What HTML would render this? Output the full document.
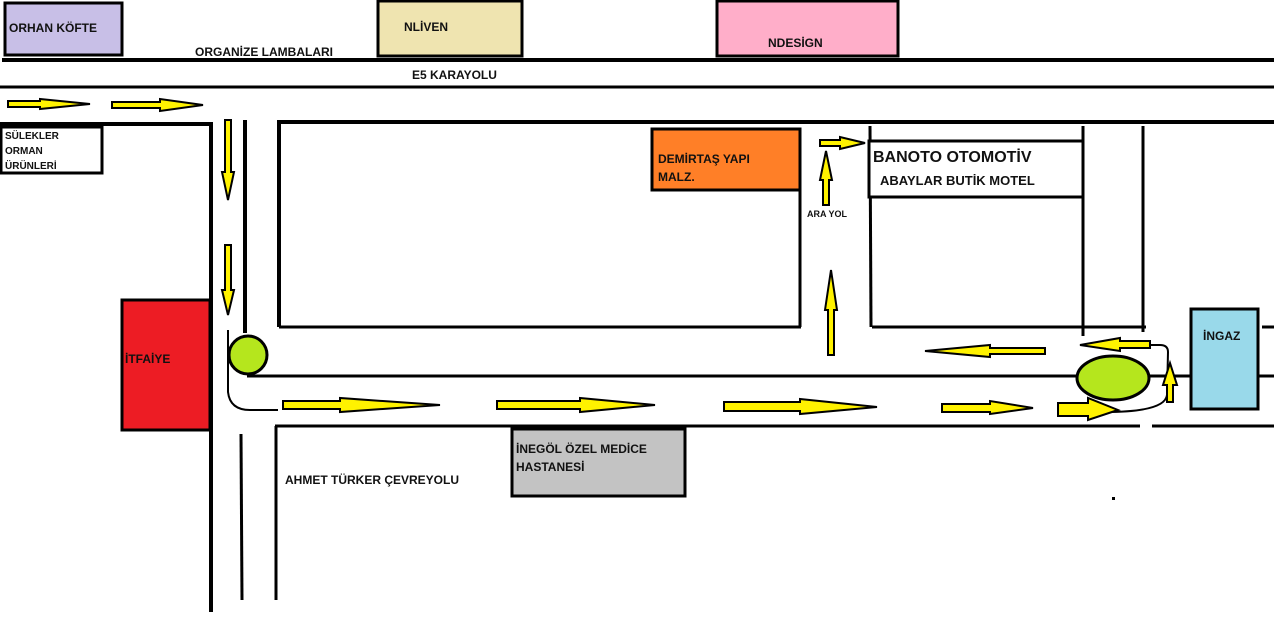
<!DOCTYPE html>
<html><head><meta charset="utf-8"><style>
html,body{margin:0;padding:0;background:#fff}
svg{display:block}
text{font-family:"Liberation Sans",sans-serif;font-weight:bold;fill:#111}
</style></head><body>
<svg width="1274" height="630" viewBox="0 0 1274 630" xmlns="http://www.w3.org/2000/svg">
<rect width="1274" height="630" fill="#fff"/>
<!-- top buildings -->
<rect x="5" y="3" width="117" height="52" fill="#c8bfe7" stroke="#000" stroke-width="3"/>
<text x="9" y="32" font-size="12">ORHAN KÖFTE</text>
<rect x="378" y="1" width="144" height="55" fill="#efe4b0" stroke="#000" stroke-width="3"/>
<text x="404" y="31" font-size="12">NLİVEN</text>
<rect x="717" y="1" width="181" height="55" fill="#ffaec9" stroke="#000" stroke-width="3"/>
<text x="768" y="47" font-size="12">NDESİGN</text>
<text x="195" y="56" font-size="12" font-weight="normal">ORGANİZE LAMBALARI</text>
<!-- E5 lines -->
<line x1="2" y1="60" x2="1274" y2="60" stroke="#000" stroke-width="4"/>
<line x1="0" y1="87" x2="1274" y2="87" stroke="#000" stroke-width="3"/>
<text x="412" y="79" font-size="12" font-weight="normal">E5 KARAYOLU</text>
<!-- left block -->
<polyline points="0,124 211,124 211,612" fill="none" stroke="#000" stroke-width="4"/>
<rect x="1" y="127" width="101" height="46" fill="#fff" stroke="#000" stroke-width="3"/>
<text x="5" y="139" font-size="10">SÜLEKLER</text>
<text x="5" y="154" font-size="10">ORMAN</text>
<text x="5" y="169" font-size="10">ÜRÜNLERİ</text>
<line x1="245" y1="120" x2="245" y2="333" stroke="#000" stroke-width="4"/>
<!-- middle block -->
<polyline points="279,327 279,122 1274,122" fill="none" stroke="#000" stroke-width="4"/>
<line x1="279" y1="327" x2="801" y2="327" stroke="#000" stroke-width="3"/>
<line x1="800" y1="130" x2="800" y2="327" stroke="#000" stroke-width="3"/>
<!-- right blocks -->
<line x1="870" y1="126" x2="871" y2="327" stroke="#000" stroke-width="3"/>
<line x1="872" y1="327" x2="1146" y2="327" stroke="#000" stroke-width="3"/>
<line x1="1083" y1="126" x2="1083" y2="336" stroke="#000" stroke-width="3"/>
<line x1="1143" y1="126" x2="1143" y2="332" stroke="#000" stroke-width="3"/>
<line x1="1262" y1="327" x2="1274" y2="327" stroke="#000" stroke-width="3"/>
<rect x="869" y="141" width="214" height="56" fill="#fff" stroke="#000" stroke-width="3"/>
<text x="873" y="162" font-size="16" font-weight="normal">BANOTO OTOMOTİV</text>
<text x="880" y="185" font-size="13">ABAYLAR BUTİK MOTEL</text>
<rect x="652" y="129" width="148" height="61" fill="#ff7f27" stroke="#000" stroke-width="3"/>
<text x="658" y="163" font-size="12">DEMİRTAŞ YAPI</text>
<text x="658" y="181" font-size="12">MALZ.</text>
<text x="807" y="217" font-size="9">ARA YOL</text>
<!-- lower road -->
<line x1="247" y1="376" x2="1080" y2="376" stroke="#000" stroke-width="3"/>
<line x1="1150" y1="376" x2="1190" y2="376" stroke="#000" stroke-width="3"/>
<line x1="1258" y1="376" x2="1274" y2="376" stroke="#000" stroke-width="3"/>
<line x1="275" y1="426" x2="1140" y2="426" stroke="#000" stroke-width="3"/>
<line x1="1152" y1="426" x2="1274" y2="426" stroke="#000" stroke-width="3"/>
<line x1="276" y1="426" x2="276" y2="600" stroke="#000" stroke-width="3"/>
<line x1="241" y1="434" x2="242" y2="600" stroke="#000" stroke-width="3"/>
<path d="M228,330 L228,392 Q230,410 250,410 L278,410" fill="none" stroke="#000" stroke-width="2"/>
<text x="285" y="484" font-size="12" font-weight="normal">AHMET TÜRKER ÇEVREYOLU</text>
<rect x="122" y="300" width="88" height="130" fill="#ed1c24" stroke="#000" stroke-width="3"/>
<text x="125" y="363" font-size="12">İTFAİYE</text>
<rect x="512" y="429" width="173" height="67" fill="#c3c3c3" stroke="#000" stroke-width="3"/>
<text x="516" y="453" font-size="12">İNEGÖL ÖZEL MEDİCE</text>
<text x="516" y="471" font-size="12">HASTANESİ</text>
<rect x="1191" y="309" width="67" height="100" fill="#99d9ea" stroke="#000" stroke-width="3"/>
<text x="1203" y="340" font-size="12">İNGAZ</text>
<circle cx="248" cy="355" r="19" fill="#b5e61d" stroke="#000" stroke-width="3"/>
<path d="M1105,412 Q1165,412 1167,395 L1168,352 Q1168,345 1160,345 L1140,345" fill="none" stroke="#000" stroke-width="2"/>
<ellipse cx="1113" cy="378" rx="36" ry="22" fill="#b5e61d" stroke="#000" stroke-width="3"/>
<rect x="1112" y="497" width="3" height="3" fill="#000"/>
<!-- arrows -->
<g fill="#fff200" stroke="#000" stroke-width="2" stroke-linejoin="miter">
<polygon points="8,101 40,101 40,99 90,104 40,109 40,107 8,107"/>
<polygon points="112,102 160,102 160,99 203,105 160,111 160,108 112,108"/>
<polygon points="225,120 231,120 231,172 234,172 228,200 222,172 225,172"/>
<polygon points="225,245 231,245 231,290 234,290 228,315 222,290 225,290"/>
<polygon points="283,401 340,401 340,398 440,405 340,412 340,409 283,409"/>
<polygon points="497,401 580,401 580,398 655,405 580,412 580,409 497,409"/>
<polygon points="724,402 800,402 800,399 877,407 800,414 800,411 724,411"/>
<polygon points="942,404 990,404 990,401 1033,408 990,414 990,412 942,412"/>
<polygon points="1058,403 1088,403 1088,398 1118,410 1088,420 1088,416 1058,416"/>
<polygon points="1045,348 990,348 990,345 925,351 990,357 990,354 1045,354"/>
<polygon points="1150,341 1120,341 1120,338 1080,345 1120,351 1120,348 1150,348"/>
<polygon points="1167,402 1173,402 1173,385 1177,385 1170,363 1163,385 1167,385"/>
<polygon points="828,355 834,355 834,310 837,310 831,270 825,310 828,310"/>
<polygon points="823,205 829,205 829,180 832,180 826,151 820,180 823,180"/>
<polygon points="820,140 840,140 840,137 865,143 840,149 840,146 820,146"/>
</g>
</svg>
</body></html>
